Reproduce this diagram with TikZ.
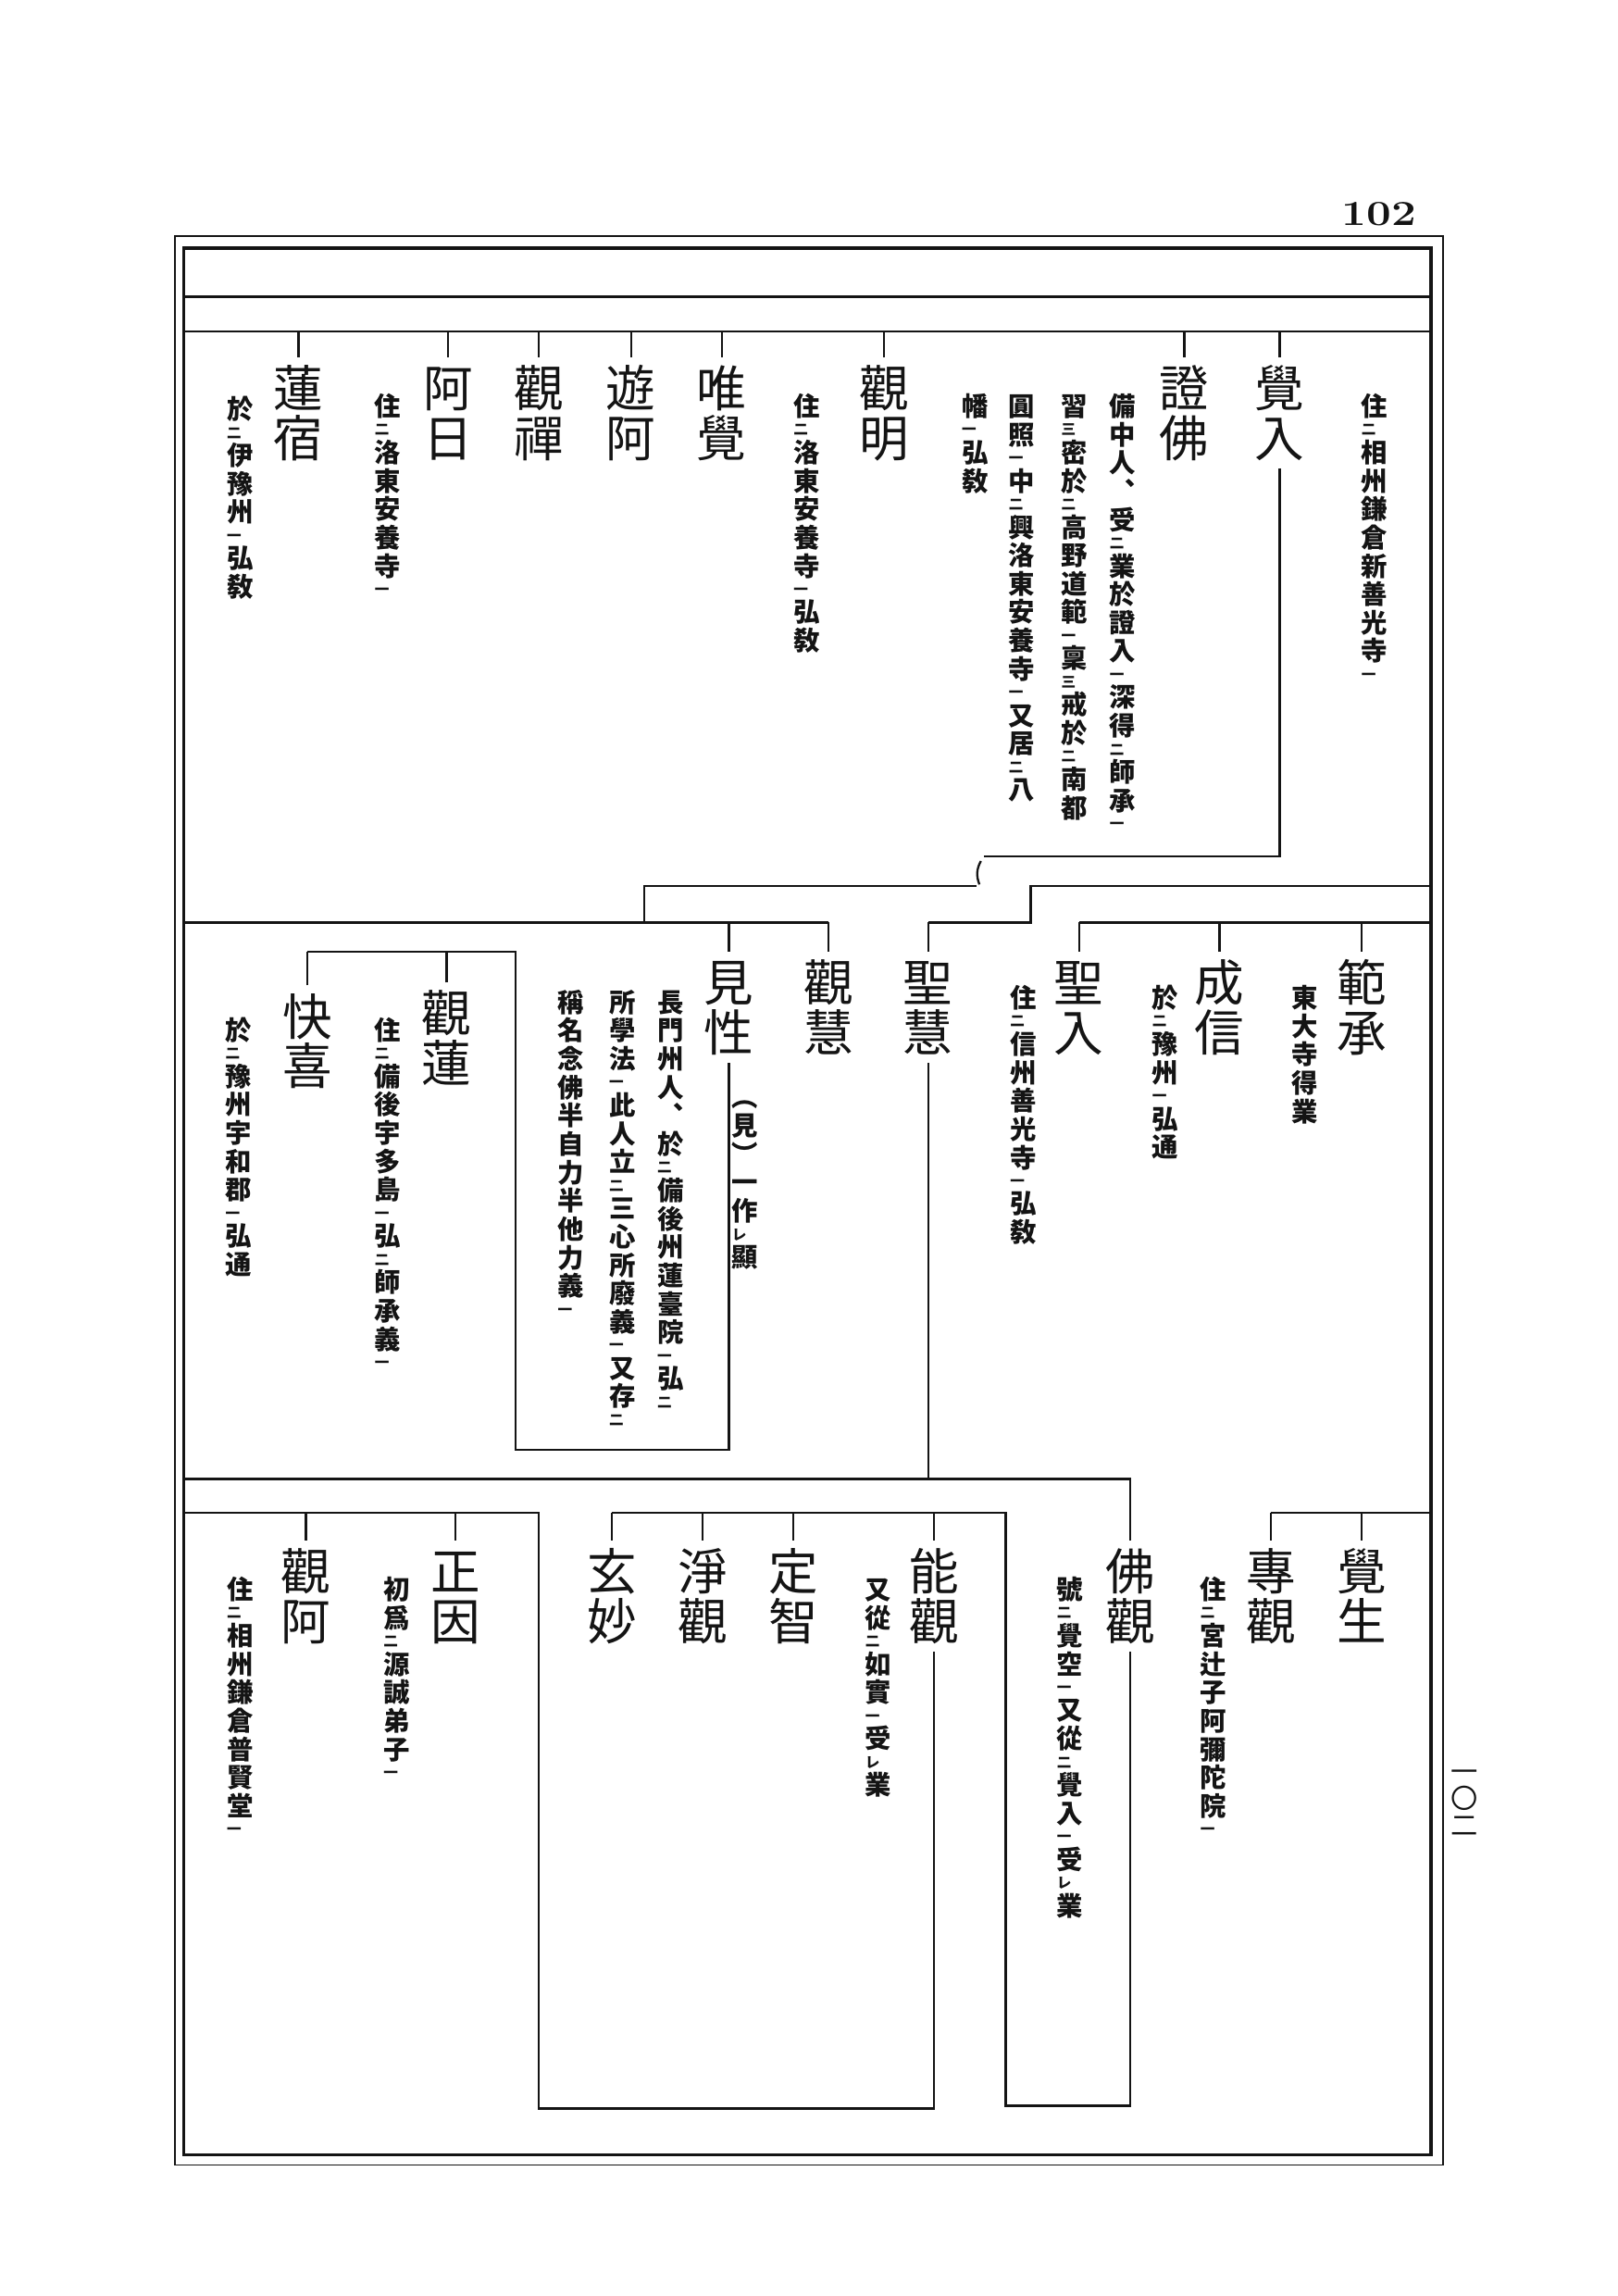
\documentclass[tikz,border=0pt]{standalone}
\usepackage{fontspec}
\usepackage{graphicx}
\newfontfamily\cjk{Noto Sans CJK JP}
\usetikzlibrary{positioning,calc}
\definecolor{ink}{HTML}{141414}
\newlength\vtw
\newlength\vtgap
\makeatletter
\newcommand\vtext[1]{\vbox{\offinterlineskip\setlength\vtw{1em}\vtloop#1\relax\unkern}}
\def\vtloop#1{\ifx\relax#1\let\vt@next\relax\else\ifx_#1\let\vt@next\vtmark\else\vtchar{#1}\let\vt@next\vtloop\fi\fi\vt@next}
\newcommand\vtchar[1]{\hbox to\vtw{\hss\rule[-.12em]{0pt}{1em}#1\hss}\kern\vtgap}
\newcommand\vtmark[1]{\hbox to\vtw{\rule[-.08em]{0pt}{.6em}\scalebox{.55}{#1}\hss}\kern\vtgap\vtloop}
\makeatother
\newcommand\monkfont{\cjk\fontsize{18.3pt}{18.3pt}\selectfont\setlength\vtgap{0pt}}
\newcommand\glossfont{\cjk\bfseries\fontsize{9.7pt}{9.7pt}\selectfont\setlength\vtgap{.08em}}
\tikzset{
  frameout/.style={draw=ink,line width=.6pt},
  framein/.style={draw=ink,line width=1.2pt},
  lineage/.style={draw=ink,line width=.8pt},
  monk/.style={anchor=north,inner xsep=0pt,inner ysep=2pt,font=\monkfont,text=ink},
  gloss/.style={anchor=north,inner sep=0pt,font=\glossfont,text=ink},
  folio/.style={font=\bfseries\fontsize{13pt}{13pt}\selectfont,text=ink,inner sep=0pt}
}
\begin{document}
\begin{tikzpicture}[x=0.019cm,y=-0.019cm]
\useasboundingbox (0,0) rectangle (1105,1568);
\draw[frameout] (119.5,161) rectangle (985.5,1478.5);
\draw[framein] (125.5,169.5) rectangle (977.5,1471.5);
\node[folio] (folio) at (942,146) {\scalebox{1.25}[1]{102}};
\node[gloss,font=\cjk\fontsize{10pt}{10pt}\selectfont] (folio-kanji) at (1000,1200) {\vtext{一〇二}};

\coordinate (h0L) at (125.5,202.7);
\coordinate (h0R) at (977.5,202.7);
\coordinate (r1L) at (125.5,226.4);
\coordinate (r1R) at (977.5,226.4);
\coordinate (r2L) at (125.5,630);
\coordinate (r2R) at (977.5,630);
\coordinate (r3a) at (125.5,1010);
\coordinate (r3L) at (125.5,1033);
\coordinate (r3R) at (977.5,1033);

\node[monk] (kakunyu) at (874,244) {\vtext{覺入}};
\node[monk] (shobutsu) at (809,244) {\vtext{證佛}};
\node[monk] (kanmyo) at (604,244) {\vtext{觀明}};
\node[monk] (yuikaku) at (493,244) {\vtext{唯覺}};
\node[monk] (yua) at (431,244) {\vtext{遊阿}};
\node[monk] (kanzen) at (368,244) {\vtext{觀禪}};
\node[monk] (anichi) at (306,244) {\vtext{阿日}};
\node[monk] (renshuku) at (204,244) {\vtext{蓮宿}};

\node[gloss] (kakunyu-g) at (939,268) {\vtext{住_二相州鎌倉新善光寺_一}};
\node[gloss] (shobutsu-g1) at (767,268) {\vtext{備中人︑受_二業於證入_一深得_二師承_一}};
\node[gloss] (shobutsu-g2) at (734,268) {\vtext{習_三密於_二高野道範_一稟_三戒於_二南都}};
\node[gloss] (shobutsu-g3) at (698,268) {\vtext{圓照_一中_二興洛東安養寺_一又居_二八}};
\node[gloss] (shobutsu-g4) at (666,268) {\vtext{幡_一弘敎}};
\node[gloss] (kanmyo-g) at (551,268) {\vtext{住_二洛東安養寺_一弘敎}};
\node[gloss] (anichi-g) at (265,268) {\vtext{住_二洛東安養寺_一}};
\node[gloss] (renshuku-g) at (164,270) {\vtext{於_二伊豫州_一弘敎}};

\node[monk] (hanjo) at (930,650) {\vtext{範承}};
\node[monk] (joshin) at (833,650) {\vtext{成信}};
\node[monk] (shonyu) at (737,650) {\vtext{聖入}};
\node[monk] (shoe) at (634,650) {\vtext{聖慧}};
\node[monk] (kane) at (566,650) {\vtext{觀慧}};
\node[monk] (kensho) at (498,650) {\vtext{見性}};
\node[monk] (kanren) at (305,671) {\vtext{觀蓮}};
\node[monk] (kaiki) at (210,673) {\vtext{快喜}};

\node[gloss] (hanjo-g) at (891,672) {\vtext{東大寺得業}};
\node[gloss] (joshin-g) at (796,672) {\vtext{於_二豫州_一弘通}};
\node[gloss] (shonyu-g) at (699,672) {\vtext{住_二信州善光寺_一弘敎}};
\node[gloss] (kensho-n) at (509,740) {\vtext{︵見︶一作_レ顯}};
\node[gloss] (kensho-g1) at (458,675) {\vtext{長門州人︑於_二備後州蓮臺院_一弘_二}};
\node[gloss] (kensho-g2) at (425,675) {\vtext{所學法_一此人立_二三心所廢義_一又存_二}};
\node[gloss] (kensho-g3) at (390,675) {\vtext{稱名念佛半自力半他力義_一}};
\node[gloss] (kanren-g) at (265,694) {\vtext{住_二備後宇多島_一弘_二師承義_一}};
\node[gloss] (kaiki-g) at (163,694) {\vtext{於_二豫州宇和郡_一弘通}};

\node[monk] (kakusho) at (930,1052) {\vtext{覺生}};
\node[monk] (senkan) at (868,1052) {\vtext{專觀}};
\node[monk] (bukkan) at (772,1052) {\vtext{佛觀}};
\node[monk] (nokan) at (638,1052) {\vtext{能觀}};
\node[monk] (jochi) at (542,1052) {\vtext{定智}};
\node[monk] (jokan) at (480,1052) {\vtext{淨觀}};
\node[monk] (genmyo) at (418,1052) {\vtext{玄妙}};
\node[monk] (shoin) at (311,1052) {\vtext{正因}};
\node[monk] (kana) at (209,1052) {\vtext{觀阿}};

\node[gloss] (senkan-g) at (829,1076) {\vtext{住_二宮辻子阿彌陀院_一}};
\node[gloss] (bukkan-g) at (731,1076) {\vtext{號_二覺空_一又從_二覺入_一受_レ業}};
\node[gloss] (nokan-g) at (600,1076) {\vtext{又從_二如實_一受_レ業}};
\node[gloss] (shoin-g) at (271,1076) {\vtext{初爲_二源誠弟子_一}};
\node[gloss] (kana-g) at (164,1076) {\vtext{住_二相州鎌倉普賢堂_一}};

\coordinate (kj1) at (672,585);
\coordinate (kj2) at (670,588);
\coordinate (kj3) at (669,604);
\coordinate (kj4) at (667,605);
\coordinate (kj5) at (440,605);
\coordinate (sh1) at (977.5,605);
\coordinate (sh2) at (704,605);
\coordinate (kb1) at (498,990);
\coordinate (kb2) at (352,650);
\coordinate (bk1) at (687,1438);
\coordinate (nk1) at (368,1440);

\draw[lineage] (h0L) -- (h0R);
\draw[lineage] (r1L) -- (r1R);
\foreach \n in {kakunyu,shobutsu,kanmyo,yuikaku,yua,kanzen,anichi,renshuku}
  \draw[lineage] (\n.north) -- (\n.north |- r1L);

\draw[lineage] (kakunyu.south) |- (kj1);
\draw[lineage] (kj2) to[bend right=25] (kj3);
\draw[lineage] (kj4) -- (kj5) -- (kj5 |- r2L);
\draw[lineage] (r2L) -- (kane.north |- r2L);
\draw[lineage] (sh1) -- (sh2) |- (shoe.north |- r2L);
\draw[lineage] (shonyu.north |- r2R) -- (r2R);
\foreach \n in {hanjo,joshin,shonyu,shoe,kane,kensho}
  \draw[lineage] (\n.north) -- (\n.north |- r2L);

\draw[lineage] (kensho.south) -- (kb1) -| (kb2) -- (kaiki.north |- kb2);
\foreach \n in {kanren,kaiki}
  \draw[lineage] (\n.north) -- (\n.north |- kb2);

\draw[lineage] (shoe.south) -- (shoe.south |- r3a);
\draw[lineage] (r3a) -- (bukkan.north |- r3a) -- (bukkan.north);
\draw[lineage] (senkan.north |- r3R) -- (r3R);
\draw[lineage] (bukkan.south) |- (bk1) -- (bk1 |- r3R) -- (genmyo.north |- r3R);
\draw[lineage] (nokan.south) |- (nk1) -- (nk1 |- r3R) -- (r3L);
\foreach \n in {kakusho,senkan,nokan,jochi,jokan,genmyo,shoin,kana}
  \draw[lineage] (\n.north) -- (\n.north |- r3R);
\end{tikzpicture}
\end{document}
